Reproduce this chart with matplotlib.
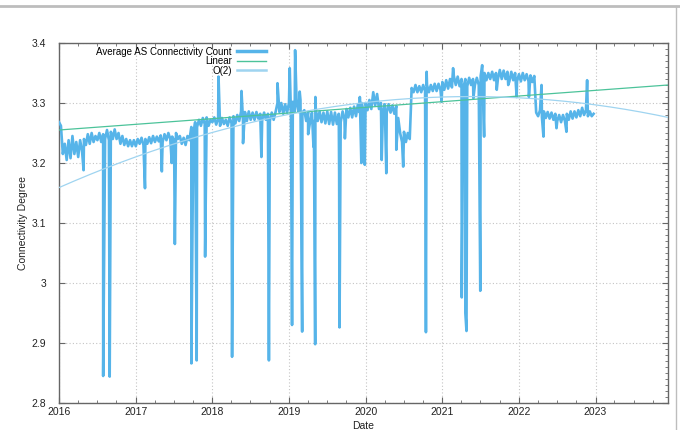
import numpy as np
import matplotlib
matplotlib.use('Agg')
import matplotlib.pyplot as plt
import matplotlib.dates as mdates
from matplotlib.lines import Line2D
from matplotlib.ticker import FuncFormatter, MultipleLocator
import datetime as dt

plt.rcParams['font.family'] = ['Liberation Sans', 'DejaVu Sans']

# ---- data (decimal years, values) ----
sample_step = 0.025  # one reading every ~9 days
vals_2016 = [3.268, 3.262, 3.215, 3.232, 3.205, 3.238, 3.208, 3.245, 3.215, 3.235,
             3.210, 3.238, 3.220, 3.240, 3.230, 3.248, 3.232, 3.250, 3.235, 3.245,
             3.238, 3.250, 3.235, 3.248, 3.240, 3.255, 3.238, 3.252, 3.240, 3.256,
             3.240, 3.250, 3.232, 3.245, 3.230, 3.240, 3.228, 3.238, 3.228, 3.238]
vals_2017 = [3.228, 3.240, 3.232, 3.242, 3.230, 3.240, 3.232, 3.243, 3.233, 3.245,
             3.235, 3.244, 3.236, 3.246, 3.235, 3.248, 3.238, 3.250, 3.240, 3.244,
             3.238, 3.250, 3.240, 3.245, 3.232, 3.242, 3.230, 3.245, 3.238, 3.260,
             3.245, 3.268, 3.260, 3.272, 3.262, 3.275, 3.265, 3.276, 3.262, 3.272]
vals_2018 = [3.268, 3.276, 3.264, 3.274, 3.262, 3.275, 3.265, 3.272, 3.262, 3.276,
             3.266, 3.278, 3.266, 3.280, 3.270, 3.286, 3.270, 3.285, 3.270, 3.286,
             3.272, 3.284, 3.272, 3.285, 3.274, 3.282, 3.272, 3.284, 3.272, 3.282,
             3.270, 3.284, 3.272, 3.285, 3.300, 3.285, 3.300, 3.282, 3.298, 3.284]
vals_2019 = [3.300, 3.285, 3.302, 3.286, 3.300, 3.285, 3.305, 3.284, 3.288, 3.270,
             3.285, 3.268, 3.284, 3.270, 3.290, 3.270, 3.286, 3.268, 3.284, 3.266,
             3.286, 3.265, 3.285, 3.264, 3.284, 3.265, 3.282, 3.268, 3.286, 3.272,
             3.290, 3.276, 3.292, 3.276, 3.294, 3.278, 3.298, 3.284, 3.300, 3.284]
vals_2020 = [3.300, 3.288, 3.305, 3.290, 3.318, 3.296, 3.315, 3.290, 3.300, 3.285,
             3.298, 3.284, 3.298, 3.284, 3.296, 3.282, 3.295, 3.275, 3.250, 3.235,
             3.252, 3.235, 3.250, 3.240, 3.325, 3.318, 3.330, 3.318, 3.328, 3.318,
             3.330, 3.320, 3.330, 3.318, 3.330, 3.320, 3.332, 3.320, 3.332, 3.322]
vals_2021 = [3.335, 3.322, 3.338, 3.324, 3.340, 3.326, 3.345, 3.330, 3.344, 3.328,
             3.340, 3.326, 3.340, 3.328, 3.342, 3.330, 3.340, 3.330, 3.342, 3.330,
             3.345, 3.340, 3.350, 3.338, 3.350, 3.340, 3.352, 3.338, 3.350, 3.340,
             3.355, 3.340, 3.354, 3.340, 3.352, 3.336, 3.352, 3.338, 3.350, 3.336]
vals_2022 = [3.348, 3.336, 3.350, 3.338, 3.348, 3.336, 3.346, 3.335, 3.345, 3.284,
             3.278, 3.288, 3.276, 3.286, 3.275, 3.285, 3.274, 3.284, 3.272, 3.282,
             3.270, 3.280, 3.268, 3.280, 3.270, 3.282, 3.272, 3.286, 3.274, 3.286,
             3.276, 3.288, 3.278, 3.292, 3.280, 3.288, 3.278, 3.286, 3.278, 3.282]
yearly_vals = {2016: vals_2016, 2017: vals_2017, 2018: vals_2018, 2019: vals_2019,
               2020: vals_2020, 2021: vals_2021, 2022: vals_2022}

# single-day excursions (decimal year, value)
spike_years = [2016.32, 2016.575, 2016.66, 2017.12, 2017.34, 2017.47, 2017.51, 2017.726,
               2017.795, 2017.905, 2018.08, 2018.257, 2018.38, 2018.40, 2018.64, 2018.738,
               2018.745, 2018.85, 2019.01, 2019.04, 2019.08, 2019.14, 2019.172, 2019.25,
               2019.32, 2019.342, 2019.345, 2019.655, 2019.66, 2019.73, 2019.925, 2019.945,
               2019.99, 2020.21, 2020.27, 2020.40, 2020.49, 2020.786, 2020.795, 2020.99,
               2021.14, 2021.253, 2021.30, 2021.315, 2021.405, 2021.495, 2021.52, 2021.545,
               2021.71, 2021.86, 2021.97, 2022.13, 2022.295, 2022.32, 2022.49, 2022.62,
               2022.89]
spike_vals = [3.188, 2.845, 2.844, 3.158, 3.186, 3.200, 3.065, 2.866,
              2.871, 3.044, 3.344, 2.877, 3.320, 3.233, 3.210, 2.871,
              3.115, 3.333, 3.358, 2.930, 3.388, 3.319, 2.919, 3.248,
              3.227, 2.898, 3.310, 3.183, 2.926, 3.241, 3.310, 3.200,
              3.197, 3.205, 3.183, 3.222, 3.194, 2.918, 3.352, 3.302,
              3.358, 2.976, 2.950, 2.920, 3.308, 2.987, 3.363, 3.244,
              3.322, 3.330, 3.310, 3.310, 3.330, 3.244, 3.258, 3.252,
              3.338]

# fitted curves, read at a few dates
linear_fit_years = [2016.0, 2023.946]
linear_fit_vals = [3.255, 3.330]
quad_fit_years = [2016.0, 2021.0, 2023.946]
quad_fit_vals = [3.159, 3.310, 3.276]

x_range_years = [2016.0, 2023.946]
y_range = [2.8, 3.4]
legend_labels = ['Average AS Connectivity Count', 'Linear', 'O(2)']


def yr2num(y):
    y = float(y)
    yi = int(np.floor(y))
    start = dt.datetime(yi, 1, 1)
    end = dt.datetime(yi + 1, 1, 1)
    return mdates.date2num(start + (end - start) * (y - yi))


# assemble series
pts = []
for yr, vals in yearly_vals.items():
    for i, v in enumerate(vals):
        pts.append((yr + i * sample_step, v))
for y, v in zip(spike_years, spike_vals):
    pts.append((y, v))
pts.sort(key=lambda p: p[0])
xs = np.array([yr2num(p[0]) for p in pts])
ys = np.array([p[1] for p in pts])

fig = plt.figure(figsize=(6.8, 4.3), dpi=100)
ax = fig.add_axes([59 / 680, 1 - 403 / 430, (668 - 59) / 680, (403 - 43) / 430])

# fits
grid_years = np.linspace(x_range_years[0], x_range_years[1], 200)
grid_x = np.array([yr2num(g) for g in grid_years])
lin_c = np.polyfit(np.array(linear_fit_years) - 2016, linear_fit_vals, 1)
quad_c = np.polyfit(np.array(quad_fit_years) - 2016, quad_fit_vals, 2)

ax.plot(xs, ys, color='#56B4E9', lw=1.9, label=legend_labels[0], zorder=3)
ax.plot(grid_x, np.polyval(lin_c, grid_years - 2016), color='#4cc39a', lw=0.9,
        label=legend_labels[1], zorder=4)
ax.plot(grid_x, np.polyval(quad_c, grid_years - 2016), color='#9fd4f0', lw=0.9,
        label=legend_labels[2], zorder=4)

ax.set_xlim(yr2num(x_range_years[0]), yr2num(x_range_years[1]))
ax.set_ylim(*y_range)
ax.xaxis.set_major_locator(mdates.YearLocator())
ax.xaxis.set_major_formatter(mdates.DateFormatter('%Y'))
ax.xaxis.set_minor_locator(mdates.MonthLocator(bymonth=[4, 7, 10]))
ax.yaxis.set_major_locator(MultipleLocator(0.1))
ax.yaxis.set_minor_locator(MultipleLocator(0.01))
ax.yaxis.set_major_formatter(FuncFormatter(lambda v, p: '%g' % round(v, 3)))

for s in ax.spines.values():
    s.set_color('#666666')
    s.set_linewidth(1.0)
ax.tick_params(which='both', direction='in', top=True, right=True, color='#666666',
               labelsize=7.5, labelcolor='#222222')
ax.tick_params(which='major', length=4, width=0.8, pad=3)
ax.tick_params(which='minor', length=2, width=0.6)
ax.tick_params(axis='y', which='minor', left=False, right=True)
ax.tick_params(axis='y', which='major', pad=9)
ax.grid(True, which='major', linestyle=(0, (1, 2)), color='#c4c4c4', lw=0.8)

ax.set_xlabel('Date', fontsize=7.5, color='#222222', labelpad=3)
ax.set_ylabel('Connectivity Degree', fontsize=7.5, color='#222222', labelpad=3)

leg = ax.legend(loc='upper right', bbox_to_anchor=((266 - 59) / 609, 0.99),
                markerfirst=False, frameon=False, fontsize=7, borderpad=0,
                borderaxespad=0, handletextpad=0.5, handlelength=3.0,
                labelspacing=-0.05)
for h, lw in zip(leg.get_lines(), [2.5, 1.0, 1.8]):
    h.set_linewidth(lw)

# screenshot frame lines
fig.add_artist(Line2D([0, 1], [1 - 6 / 430, 1 - 6 / 430], color='#bdbdbd', lw=2))
fig.add_artist(Line2D([676 / 680, 676 / 680], [0, 1 - 6 / 430], color='#bdbdbd', lw=1))

fig.savefig('out.png', dpi=100)
